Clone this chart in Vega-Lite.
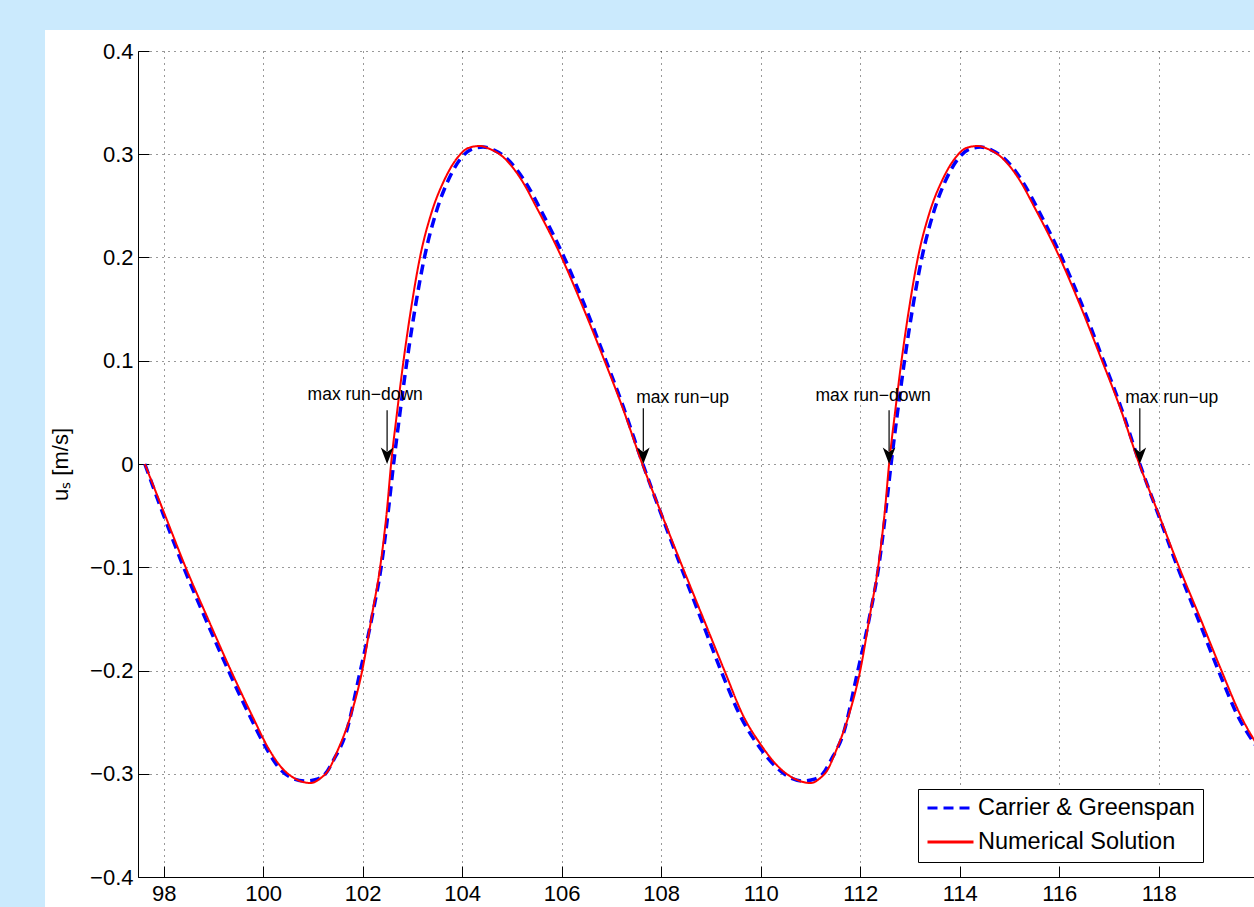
{
  "$schema": "https://vega.github.io/schema/vega-lite/v6.json",
  "width": 1116,
  "height": 826,
  "autosize": {"type": "none"},
  "padding": {"left": 138, "top": 51, "right": 0, "bottom": 30},
  "background": "white",
  "config": {
    "view": {"stroke": null},
    "font": "Liberation Sans",
    "axis": {
      "grid": true,
      "gridColor": "#000000",
      "gridDash": [1, 5],
      "gridWidth": 1,
      "gridOpacity": 0.8,
      "domainColor": "#000000",
      "domainWidth": 1,
      "tickColor": "#000000",
      "tickSize": -11,
      "tickWidth": 1,
      "labelColor": "#000000",
      "labelFont": "Liberation Sans",
      "labelFontSize": 22,
      "titleFont": "Liberation Sans",
      "titleFontSize": 22,
      "titleFontWeight": "normal",
      "titleColor": "#000000",
      "labelFlush": false,
      "labelOverlap": false,
      "labelBound": false
    },
    "legend": {
      "orient": "none",
      "legendX": 780,
      "legendY": 738,
      "fillColor": "white",
      "strokeColor": "black",
      "strokeWidth": 1,
      "padding": 8,
      "labelFont": "Liberation Sans",
      "labelFontSize": 23.5,
      "labelColor": "black",
      "labelOffset": 3,
      "symbolType": "stroke",
      "symbolSize": 2116,
      "symbolStrokeWidth": 3,
      "clipHeight": 22,
      "rowPadding": 10,
      "labelLimit": 400
    }
  },
  "datasets": {
    "curves": [
      {"t": 97.62, "u": 0.0, "series": "Carrier & Greenspan"},
      {"t": 98.0, "u": -0.05, "series": "Carrier & Greenspan"},
      {"t": 98.4, "u": -0.1, "series": "Carrier & Greenspan"},
      {"t": 98.84, "u": -0.15, "series": "Carrier & Greenspan"},
      {"t": 99.3, "u": -0.2, "series": "Carrier & Greenspan"},
      {"t": 99.74, "u": -0.245, "series": "Carrier & Greenspan"},
      {"t": 100.07, "u": -0.276, "series": "Carrier & Greenspan"},
      {"t": 100.33, "u": -0.295, "series": "Carrier & Greenspan"},
      {"t": 100.62, "u": -0.305, "series": "Carrier & Greenspan"},
      {"t": 100.85, "u": -0.307, "series": "Carrier & Greenspan"},
      {"t": 101.1, "u": -0.305, "series": "Carrier & Greenspan"},
      {"t": 101.25, "u": -0.3, "series": "Carrier & Greenspan"},
      {"t": 101.41, "u": -0.287, "series": "Carrier & Greenspan"},
      {"t": 101.68, "u": -0.258, "series": "Carrier & Greenspan"},
      {"t": 101.93, "u": -0.205, "series": "Carrier & Greenspan"},
      {"t": 102.2, "u": -0.145, "series": "Carrier & Greenspan"},
      {"t": 102.37, "u": -0.1, "series": "Carrier & Greenspan"},
      {"t": 102.52, "u": -0.043, "series": "Carrier & Greenspan"},
      {"t": 102.62, "u": 0.0, "series": "Carrier & Greenspan"},
      {"t": 102.75, "u": 0.05, "series": "Carrier & Greenspan"},
      {"t": 102.89, "u": 0.1, "series": "Carrier & Greenspan"},
      {"t": 103.06, "u": 0.153, "series": "Carrier & Greenspan"},
      {"t": 103.24, "u": 0.2, "series": "Carrier & Greenspan"},
      {"t": 103.47, "u": 0.243, "series": "Carrier & Greenspan"},
      {"t": 103.73, "u": 0.276, "series": "Carrier & Greenspan"},
      {"t": 103.99, "u": 0.297, "series": "Carrier & Greenspan"},
      {"t": 104.2, "u": 0.305, "series": "Carrier & Greenspan"},
      {"t": 104.42, "u": 0.307, "series": "Carrier & Greenspan"},
      {"t": 104.64, "u": 0.304, "series": "Carrier & Greenspan"},
      {"t": 104.87, "u": 0.297, "series": "Carrier & Greenspan"},
      {"t": 105.27, "u": 0.273, "series": "Carrier & Greenspan"},
      {"t": 105.6, "u": 0.244, "series": "Carrier & Greenspan"},
      {"t": 106.05, "u": 0.2, "series": "Carrier & Greenspan"},
      {"t": 106.45, "u": 0.155, "series": "Carrier & Greenspan"},
      {"t": 106.85, "u": 0.105, "series": "Carrier & Greenspan"},
      {"t": 107.24, "u": 0.055, "series": "Carrier & Greenspan"},
      {"t": 107.63, "u": 0.0, "series": "Carrier & Greenspan"},
      {"t": 108.01, "u": -0.05, "series": "Carrier & Greenspan"},
      {"t": 108.4, "u": -0.1, "series": "Carrier & Greenspan"},
      {"t": 108.8, "u": -0.15, "series": "Carrier & Greenspan"},
      {"t": 109.2, "u": -0.2, "series": "Carrier & Greenspan"},
      {"t": 109.6, "u": -0.245, "series": "Carrier & Greenspan"},
      {"t": 109.94, "u": -0.272, "series": "Carrier & Greenspan"},
      {"t": 110.3, "u": -0.293, "series": "Carrier & Greenspan"},
      {"t": 110.65, "u": -0.305, "series": "Carrier & Greenspan"},
      {"t": 110.85, "u": -0.307, "series": "Carrier & Greenspan"},
      {"t": 111.1, "u": -0.305, "series": "Carrier & Greenspan"},
      {"t": 111.25, "u": -0.3, "series": "Carrier & Greenspan"},
      {"t": 111.41, "u": -0.287, "series": "Carrier & Greenspan"},
      {"t": 111.68, "u": -0.258, "series": "Carrier & Greenspan"},
      {"t": 111.93, "u": -0.205, "series": "Carrier & Greenspan"},
      {"t": 112.2, "u": -0.145, "series": "Carrier & Greenspan"},
      {"t": 112.37, "u": -0.1, "series": "Carrier & Greenspan"},
      {"t": 112.52, "u": -0.043, "series": "Carrier & Greenspan"},
      {"t": 112.62, "u": 0.0, "series": "Carrier & Greenspan"},
      {"t": 112.75, "u": 0.05, "series": "Carrier & Greenspan"},
      {"t": 112.89, "u": 0.1, "series": "Carrier & Greenspan"},
      {"t": 113.06, "u": 0.153, "series": "Carrier & Greenspan"},
      {"t": 113.24, "u": 0.2, "series": "Carrier & Greenspan"},
      {"t": 113.47, "u": 0.243, "series": "Carrier & Greenspan"},
      {"t": 113.73, "u": 0.276, "series": "Carrier & Greenspan"},
      {"t": 113.99, "u": 0.297, "series": "Carrier & Greenspan"},
      {"t": 114.2, "u": 0.305, "series": "Carrier & Greenspan"},
      {"t": 114.42, "u": 0.307, "series": "Carrier & Greenspan"},
      {"t": 114.64, "u": 0.304, "series": "Carrier & Greenspan"},
      {"t": 114.87, "u": 0.297, "series": "Carrier & Greenspan"},
      {"t": 115.27, "u": 0.273, "series": "Carrier & Greenspan"},
      {"t": 115.6, "u": 0.244, "series": "Carrier & Greenspan"},
      {"t": 116.05, "u": 0.2, "series": "Carrier & Greenspan"},
      {"t": 116.45, "u": 0.155, "series": "Carrier & Greenspan"},
      {"t": 116.85, "u": 0.105, "series": "Carrier & Greenspan"},
      {"t": 117.24, "u": 0.055, "series": "Carrier & Greenspan"},
      {"t": 117.62, "u": 0.0, "series": "Carrier & Greenspan"},
      {"t": 118.0, "u": -0.05, "series": "Carrier & Greenspan"},
      {"t": 118.38, "u": -0.1, "series": "Carrier & Greenspan"},
      {"t": 118.79, "u": -0.15, "series": "Carrier & Greenspan"},
      {"t": 119.2, "u": -0.2, "series": "Carrier & Greenspan"},
      {"t": 119.6, "u": -0.245, "series": "Carrier & Greenspan"},
      {"t": 119.97, "u": -0.274, "series": "Carrier & Greenspan"},
      {"t": 97.62, "u": 0.0, "series": "Numerical Solution"},
      {"t": 98.03, "u": -0.05, "series": "Numerical Solution"},
      {"t": 98.44, "u": -0.1, "series": "Numerical Solution"},
      {"t": 98.89, "u": -0.15, "series": "Numerical Solution"},
      {"t": 99.35, "u": -0.2, "series": "Numerical Solution"},
      {"t": 99.79, "u": -0.245, "series": "Numerical Solution"},
      {"t": 100.1, "u": -0.275, "series": "Numerical Solution"},
      {"t": 100.35, "u": -0.293, "series": "Numerical Solution"},
      {"t": 100.65, "u": -0.305, "series": "Numerical Solution"},
      {"t": 100.95, "u": -0.309, "series": "Numerical Solution"},
      {"t": 101.16, "u": -0.304, "series": "Numerical Solution"},
      {"t": 101.29, "u": -0.298, "series": "Numerical Solution"},
      {"t": 101.5, "u": -0.277, "series": "Numerical Solution"},
      {"t": 101.75, "u": -0.245, "series": "Numerical Solution"},
      {"t": 101.99, "u": -0.2, "series": "Numerical Solution"},
      {"t": 102.19, "u": -0.145, "series": "Numerical Solution"},
      {"t": 102.35, "u": -0.1, "series": "Numerical Solution"},
      {"t": 102.49, "u": -0.043, "series": "Numerical Solution"},
      {"t": 102.57, "u": 0.0, "series": "Numerical Solution"},
      {"t": 102.69, "u": 0.05, "series": "Numerical Solution"},
      {"t": 102.82, "u": 0.1, "series": "Numerical Solution"},
      {"t": 102.98, "u": 0.153, "series": "Numerical Solution"},
      {"t": 103.15, "u": 0.2, "series": "Numerical Solution"},
      {"t": 103.38, "u": 0.243, "series": "Numerical Solution"},
      {"t": 103.65, "u": 0.276, "series": "Numerical Solution"},
      {"t": 103.91, "u": 0.297, "series": "Numerical Solution"},
      {"t": 104.12, "u": 0.306, "series": "Numerical Solution"},
      {"t": 104.35, "u": 0.308, "series": "Numerical Solution"},
      {"t": 104.56, "u": 0.305, "series": "Numerical Solution"},
      {"t": 104.78, "u": 0.299, "series": "Numerical Solution"},
      {"t": 105.18, "u": 0.276, "series": "Numerical Solution"},
      {"t": 105.51, "u": 0.247, "series": "Numerical Solution"},
      {"t": 105.98, "u": 0.202, "series": "Numerical Solution"},
      {"t": 106.4, "u": 0.155, "series": "Numerical Solution"},
      {"t": 106.82, "u": 0.105, "series": "Numerical Solution"},
      {"t": 107.22, "u": 0.055, "series": "Numerical Solution"},
      {"t": 107.62, "u": 0.0, "series": "Numerical Solution"},
      {"t": 108.02, "u": -0.05, "series": "Numerical Solution"},
      {"t": 108.43, "u": -0.1, "series": "Numerical Solution"},
      {"t": 108.85, "u": -0.15, "series": "Numerical Solution"},
      {"t": 109.27, "u": -0.2, "series": "Numerical Solution"},
      {"t": 109.66, "u": -0.245, "series": "Numerical Solution"},
      {"t": 109.99, "u": -0.271, "series": "Numerical Solution"},
      {"t": 110.33, "u": -0.292, "series": "Numerical Solution"},
      {"t": 110.73, "u": -0.306, "series": "Numerical Solution"},
      {"t": 111.0, "u": -0.309, "series": "Numerical Solution"},
      {"t": 111.2, "u": -0.304, "series": "Numerical Solution"},
      {"t": 111.32, "u": -0.298, "series": "Numerical Solution"},
      {"t": 111.52, "u": -0.277, "series": "Numerical Solution"},
      {"t": 111.76, "u": -0.245, "series": "Numerical Solution"},
      {"t": 112.0, "u": -0.2, "series": "Numerical Solution"},
      {"t": 112.2, "u": -0.145, "series": "Numerical Solution"},
      {"t": 112.36, "u": -0.1, "series": "Numerical Solution"},
      {"t": 112.5, "u": -0.043, "series": "Numerical Solution"},
      {"t": 112.58, "u": 0.0, "series": "Numerical Solution"},
      {"t": 112.7, "u": 0.05, "series": "Numerical Solution"},
      {"t": 112.83, "u": 0.1, "series": "Numerical Solution"},
      {"t": 112.99, "u": 0.153, "series": "Numerical Solution"},
      {"t": 113.16, "u": 0.2, "series": "Numerical Solution"},
      {"t": 113.39, "u": 0.243, "series": "Numerical Solution"},
      {"t": 113.66, "u": 0.276, "series": "Numerical Solution"},
      {"t": 113.92, "u": 0.297, "series": "Numerical Solution"},
      {"t": 114.13, "u": 0.306, "series": "Numerical Solution"},
      {"t": 114.36, "u": 0.308, "series": "Numerical Solution"},
      {"t": 114.57, "u": 0.305, "series": "Numerical Solution"},
      {"t": 114.79, "u": 0.299, "series": "Numerical Solution"},
      {"t": 115.19, "u": 0.276, "series": "Numerical Solution"},
      {"t": 115.52, "u": 0.247, "series": "Numerical Solution"},
      {"t": 115.99, "u": 0.202, "series": "Numerical Solution"},
      {"t": 116.41, "u": 0.155, "series": "Numerical Solution"},
      {"t": 116.82, "u": 0.105, "series": "Numerical Solution"},
      {"t": 117.22, "u": 0.055, "series": "Numerical Solution"},
      {"t": 117.61, "u": 0.0, "series": "Numerical Solution"},
      {"t": 118.01, "u": -0.05, "series": "Numerical Solution"},
      {"t": 118.41, "u": -0.1, "series": "Numerical Solution"},
      {"t": 118.84, "u": -0.15, "series": "Numerical Solution"},
      {"t": 119.26, "u": -0.2, "series": "Numerical Solution"},
      {"t": 119.66, "u": -0.245, "series": "Numerical Solution"},
      {"t": 119.99, "u": -0.273, "series": "Numerical Solution"}
    ],
    "notes": [
      {"ax": 102.49, "label": "max run−down", "tx": 102.05, "ty": 0.0616, "top": 0.052, "bottom": 0.012, "tip": 0.0},
      {"ax": 107.64, "label": "max run−up", "tx": 108.43, "ty": 0.0588, "top": 0.054, "bottom": 0.012, "tip": 0.0},
      {"ax": 112.58, "label": "max run−down", "tx": 112.26, "ty": 0.061, "top": 0.052, "bottom": 0.012, "tip": 0.0},
      {"ax": 117.62, "label": "max run−up", "tx": 118.26, "ty": 0.0588, "top": 0.054, "bottom": 0.012, "tip": 0.0}
    ]
  },
  "layer": [
    {
      "data": {"name": "curves"},
      "transform": [{"filter": "datum.series == 'Carrier & Greenspan'"}],
      "mark": {"type": "line", "clip": true, "strokeWidth": 3.5, "interpolate": "monotone"},
      "encoding": {
        "x": {
          "field": "t", "type": "quantitative",
          "scale": {"domain": [97.483, 119.915], "nice": false, "zero": false},
          "axis": {"values": [98, 100, 102, 104, 106, 108, 110, 112, 114, 116, 118, 120], "title": null, "labelPadding": 17, "format": "d"}
        },
        "y": {
          "field": "u", "type": "quantitative",
          "scale": {"domain": [-0.4, 0.4], "nice": false, "zero": false},
          "axis": {
            "values": [-0.4, -0.3, -0.2, -0.1, 0, 0.1, 0.2, 0.3, 0.4],
            "labelExpr": "datum.value == 0 ? '0' : format(datum.value, '.1f')",
            "title": "uₛ [m/s]",
            "labelPadding": 16,
            "titlePadding": 17
          }
        },
        "color": {
          "field": "series", "type": "nominal",
          "scale": {"domain": ["Carrier & Greenspan", "Numerical Solution"], "range": ["#0000ff", "#ff0000"]},
          "legend": {"title": null}
        },
        "strokeDash": {
          "field": "series", "type": "nominal",
          "scale": {"domain": ["Carrier & Greenspan", "Numerical Solution"], "range": [[10, 6], [1, 0]]},
          "legend": {"title": null}
        }
      }
    },
    {
      "data": {"name": "curves"},
      "transform": [{"filter": "datum.series == 'Numerical Solution'"}],
      "mark": {"type": "line", "clip": true, "strokeWidth": 2, "interpolate": "monotone"},
      "encoding": {
        "x": {"field": "t", "type": "quantitative"},
        "y": {"field": "u", "type": "quantitative"},
        "color": {"field": "series", "type": "nominal", "legend": {"title": null}},
        "strokeDash": {"field": "series", "type": "nominal", "legend": {"title": null}}
      }
    },
    {
      "data": {"name": "notes"},
      "mark": {"type": "rule", "color": "black", "strokeWidth": 1.2},
      "encoding": {
        "x": {"field": "ax", "type": "quantitative"},
        "y": {"field": "top", "type": "quantitative"},
        "y2": {"field": "bottom"}
      }
    },
    {
      "data": {"name": "notes"},
      "mark": {"type": "point", "filled": true, "color": "black", "opacity": 1, "shape": "M0,0L-1,-2.6L0,-1.9L1,-2.6Z", "size": 160, "strokeWidth": 0},
      "encoding": {
        "x": {"field": "ax", "type": "quantitative"},
        "y": {"field": "tip", "type": "quantitative"}
      }
    },
    {
      "data": {"name": "notes"},
      "mark": {"type": "text", "color": "black", "font": "Liberation Sans", "fontSize": 17.5, "align": "center", "baseline": "alphabetic"},
      "encoding": {
        "x": {"field": "tx", "type": "quantitative"},
        "y": {"field": "ty", "type": "quantitative"},
        "text": {"field": "label"}
      }
    },
    {
      "data": {"values": [{}]},
      "mark": {"type": "rect", "color": "#cbeafd", "opacity": 1},
      "encoding": {
        "x": {"datum": 90},
        "x2": {"datum": 95.614},
        "y": {"datum": 0.6},
        "y2": {"datum": -0.6}
      }
    },
    {
      "data": {"values": [{}]},
      "mark": {"type": "rect", "color": "#cbeafd", "opacity": 1},
      "encoding": {
        "x": {"datum": 90},
        "x2": {"datum": 130},
        "y": {"datum": 0.6},
        "y2": {"datum": 0.4203}
      }
    }
  ]
}
